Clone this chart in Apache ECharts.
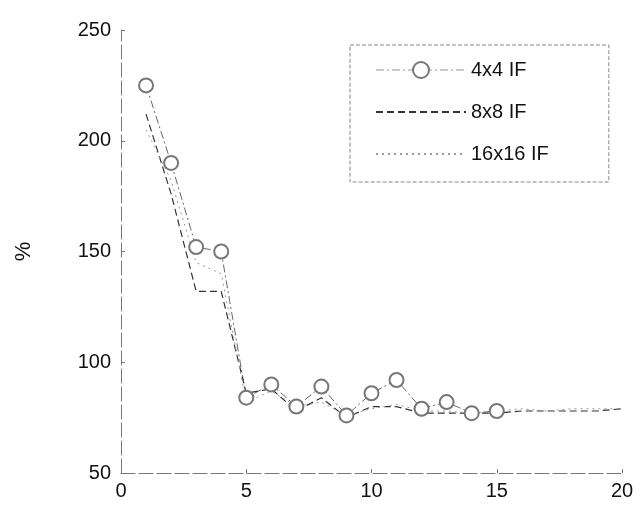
<!DOCTYPE html>
<html>
<head>
<meta charset="utf-8">
<script src="https://cdn.jsdelivr.net/npm/echarts@6/dist/echarts.min.js"></script>
<style>
  html, body { margin: 0; padding: 0; background: #fff; }
  #chart { width: 640px; height: 510px; }
</style>
</head>
<body>
<div id="chart"></div>
<script>
// values
const steps = [1, 2, 3, 4, 5, 6, 7, 8, 9, 10, 11, 12, 13, 14, 15, 16, 17, 18, 19, 20];
const if4x4 = [225, 190, 152, 150, 84, 90, 80, 89, 76, 86, 92, 79, 82, 77, 78];
const if8x8 = [212, 176, 132, 132, 86, 88, 78, 84, 75, 80, 80, 77, 77, 77, 77, 78, 78, 78, 78, 79];
const if16x16 = [205, 182, 145, 140, 82, 87, 80, 82, 76, 79, 81, 78, 78, 77, 78, 79, 78, 79, 79, 79];
const yTicks = [50, 100, 150, 200, 250];
const xTicks = [0, 5, 10, 15, 20];

function pairs(vals) {
    return vals.map((v, i) => [steps[i], v]);
}

const font = 'Liberation Sans, Arial, sans-serif';

let myChart = echarts.init(document.getElementById('chart'));
myChart.setOption({
    animation: false,
    grid: {left: 121, right: 18, top: 30, bottom: 37},
    legend: {
        orient: 'vertical',
        left: 350,
        top: 45,
        width: 257,
        padding: [15, 60, 18, 25],
        itemWidth: 90,
        itemHeight: 20,
        itemGap: 22,
        borderColor: '#888',
        borderWidth: 1,
        borderType: 'dashed',
        textStyle: {fontFamily: font, fontSize: 20, color: '#111'},
        data: [
            {name: '4x4 IF', lineStyle: {opacity: 0.35}},
            {name: '8x8 IF', itemStyle: {opacity: 0}},
            {name: '16x16 IF', itemStyle: {opacity: 0}}
        ]
    },
    xAxis: {
        type: 'value',
        min: xTicks[0],
        max: xTicks[xTicks.length - 1],
        interval: 5,
        splitLine: {show: false},
        axisLine: {lineStyle: {color: '#777', type: [14, 4]}},
        axisTick: {inside: true, length: 4, lineStyle: {color: '#777'}},
        axisLabel: {fontFamily: font, fontSize: 20, color: '#111', margin: 8}
    },
    yAxis: {
        type: 'value',
        min: yTicks[0],
        max: yTicks[yTicks.length - 1],
        interval: 50,
        name: '%',
        nameLocation: 'middle',
        nameRotate: 90,
        nameGap: 86,
        nameTextStyle: {fontFamily: font, fontSize: 22, color: '#111'},
        splitLine: {show: false},
        axisLine: {show: true, lineStyle: {color: '#777', type: [14, 4]}},
        axisTick: {show: true, inside: true, length: 4, lineStyle: {color: '#777'}},
        axisLabel: {fontFamily: font, fontSize: 20, color: '#111', margin: 10}
    },
    series: [
        {
            name: '4x4 IF',
            type: 'line',
            data: pairs(if4x4),
            symbol: 'emptyCircle',
            symbolSize: 14,
            itemStyle: {color: '#777', borderWidth: 1},
            lineStyle: {color: '#666', width: 1, type: [8, 3, 2, 3]}
        },
        {
            name: '8x8 IF',
            type: 'line',
            data: pairs(if8x8),
            symbol: 'none',
            itemStyle: {color: '#333'},
            lineStyle: {color: '#333', width: 1.2, type: [7, 4]}
        },
        {
            name: '16x16 IF',
            type: 'line',
            data: pairs(if16x16),
            symbol: 'none',
            itemStyle: {color: '#999'},
            lineStyle: {color: '#999', width: 1, type: [2, 4]}
        }
    ]
});
</script>
</body>
</html>
